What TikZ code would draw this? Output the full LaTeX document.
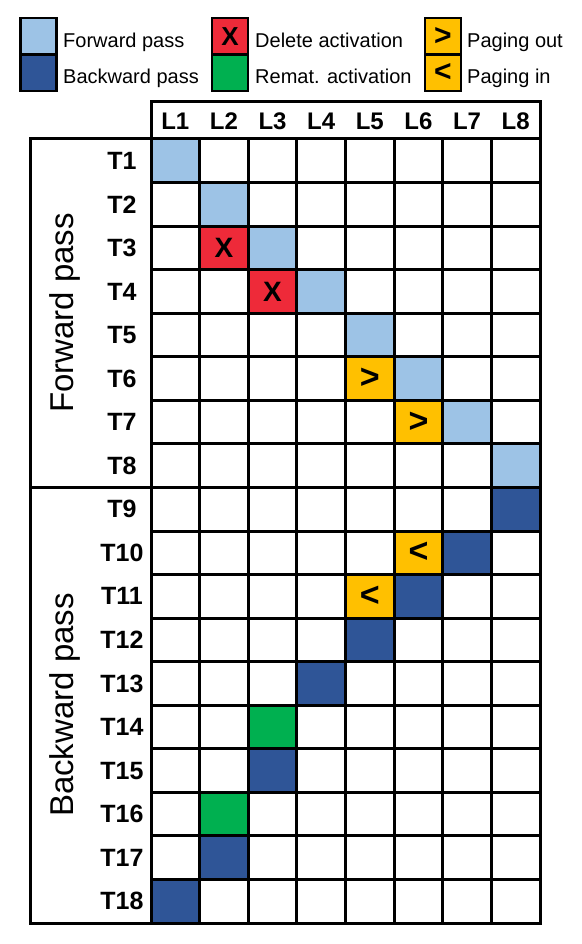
\documentclass[tikz,border=0pt]{standalone}
\usepackage{fontspec}
\setmainfont{Liberation Sans}
\definecolor{lblue}{HTML}{9DC3E6}
\definecolor{dblue}{HTML}{2F5597}
\definecolor{delred}{HTML}{EE2A39}
\definecolor{remgreen}{HTML}{00B050}
\definecolor{pageor}{HTML}{FFC000}
\newcommand{\bigsym}[1]{{\fontsize{34}{36}\selectfont\bfseries #1}}
\newcommand{\legsym}[1]{{\fontsize{30}{32}\selectfont\bfseries #1}}
\begin{document}
\begin{tikzpicture}[x=1pt,y=-1pt,
  cell/.style={draw=black, line width=3pt, minimum width=48.625pt, minimum height=43.56pt, inner sep=0pt, outer sep=0pt, font=\fontsize{28}{30}\selectfont\bfseries},
  rowlab/.style={font=\fontsize{25}{28}\selectfont\bfseries, inner sep=0pt},
  collab/.style={font=\fontsize{24}{27}\selectfont\bfseries, inner sep=0pt},
  sidebox/.style={draw=black, line width=3pt, minimum width=121pt, inner sep=0pt, outer sep=0pt},
  sidelab/.style={font=\fontsize{33}{36}\selectfont, rotate=90, inner sep=0pt},
  legbox/.style={draw=black, line width=2.8pt, minimum width=36pt, minimum height=36.5pt, inner sep=0pt, outer sep=0pt, font=\fontsize{26}{28}\selectfont\bfseries},
  legtext/.style={font=\fontsize{20}{24}\selectfont, anchor=base west, inner sep=0pt}
]
\useasboundingbox (0,0) rectangle (581,944);
\fill[white] (0,0) rectangle (581,944);

% legend
\node[legbox, fill=lblue] (lg1) at (38.5,36.3) {};
\node[legbox, fill=dblue] (lg2) at (38.5,72.8) {};
\node[legtext] (lt1) at (63,48) {Forward pass};
\node[legtext] (lt2) at (63,84) {Backward pass};
\node[legbox, fill=delred] (lg3) at (230,36.3) {X};
\node[legbox, fill=remgreen] (lg4) at (230,72.8) {};
\node[legtext] (lt3) at (255,48) {Delete activation};
\node[legtext] (lt4) at (255,84) {Remat. activation};
\node[legbox, fill=pageor] (lg5) at (443,36.3) {\legsym{>}};
\node[legbox, fill=pageor] (lg6) at (443,72.8) {\legsym{<}};
\node[legtext] (lt5) at (467,48) {Paging out};
\node[legtext] (lt6) at (467,84) {Paging in};

% grid
\foreach \r in {1,...,18}{
  \foreach \c in {1,...,8}{
    \node[cell, fill=white] (c\r-\c) at ({151+(\c-0.5)*48.625},{139+(\r-0.5)*43.556}) {};
  }
  \node[rowlab] (t\r) at (122,{139+(\r-0.5)*43.556}) {T\r};
}
\foreach \r/\c/\s/\t in {1/1/lblue/{},2/2/lblue/{},3/2/delred/X,3/3/lblue/{},4/3/delred/X,4/4/lblue/{},
  5/5/lblue/{},6/5/pageor/{\bigsym{>}},6/6/lblue/{},7/6/pageor/{\bigsym{>}},7/7/lblue/{},8/8/lblue/{},
  9/8/dblue/{},10/6/pageor/{\bigsym{<}},10/7/dblue/{},11/5/pageor/{\bigsym{<}},11/6/dblue/{},12/5/dblue/{},
  13/4/dblue/{},14/3/remgreen/{},15/3/dblue/{},16/2/remgreen/{},17/2/dblue/{},18/1/dblue/{}}{
  \node[cell, fill=\s] (m\r-\c) at (c\r-\c) {\t};
}

% header
\node[draw=black, line width=3pt, minimum width=389pt, minimum height=37pt, inner sep=0pt, outer sep=0pt] (hdr) at (345.5,120.5) {};
\foreach \c in {1,...,8}{
  \node[collab] (l\c) at ({151+(\c-0.5)*48.625},121) {L\c};
}

% side boxes
\node[sidebox, minimum height=348.5pt] (fbox) at (90.5,313.25) {};
\node[sidebox, minimum height=435.5pt] (bbox) at (90.5,705.25) {};
\node[sidelab] (flab) at (65,313) {Forward pass};
\node[sidelab] (blab) at (65,705) {Backward pass};
\end{tikzpicture}
\end{document}
